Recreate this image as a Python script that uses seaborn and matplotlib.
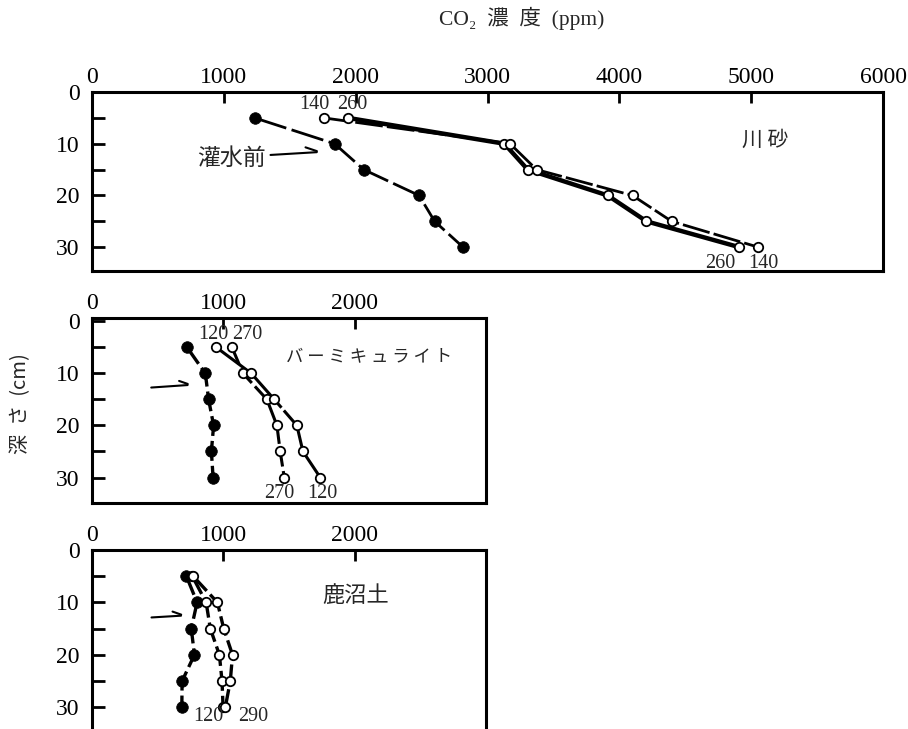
import matplotlib
matplotlib.use("Agg")
import matplotlib.pyplot as plt
from matplotlib import font_manager
import seaborn as sns
import pandas as pd

# ---------------- data ----------------
depth = [5, 10, 15, 20, 25, 30]

# 川砂 (river sand)
sand_before = [1233, 1840, 2061, 2481, 2599, 2815]
sand_140 = [1757, 3171, 3372, 4100, 4397, 5055]
sand_260 = [1941, 3128, 3305, 3912, 4206, 4911]

# バーミキュライト (vermiculite)
verm_before = [724, 863, 888, 926, 909, 922]
verm_120 = [947, 1213, 1388, 1560, 1606, 1738]
verm_270 = [1066, 1150, 1332, 1408, 1433, 1464]

# 鹿沼土 (kanuma soil)
kanuma_before = [719, 800, 756, 780, 686, 684]
kanuma_120 = [764, 869, 901, 970, 990, 998]
kanuma_290 = [770, 955, 1003, 1070, 1053, 1015]

xticks_top = [0, 1000, 2000, 3000, 4000, 5000, 6000]
xticks_small = [0, 1000, 2000]
yticks_major = [0, 10, 20, 30]
yticks_minor = [5, 15, 25]

title_text = "CO₂  濃  度  (ppm)"
ylabel_text = "深  さ  (cm)"

# ---------------- style ----------------
sns.set_style("white")
plt.rcParams["font.family"] = ["Liberation Serif", "Noto Sans CJK JP", "DejaVu Sans"]
JP = ["Noto Sans CJK JP", "DejaVu Sans"]


def has_font(name):
    try:
        font_manager.findfont(font_manager.FontProperties(family=name),
                              fallback_to_default=False)
        return True
    except Exception:
        return False


NUM = ["Liberation Sans Narrow"] if has_font("Liberation Sans Narrow") else ["Liberation Serif"]
NUM_SIZE = 15.5 if NUM[0] == "Liberation Sans Narrow" else 14.5

W, H = 908, 729
fig = plt.figure(figsize=(W / 100, H / 100), dpi=100)


def px_axes(left, top, right, bottom):
    return fig.add_axes([left / W, 1 - bottom / H, (right - left) / W, (bottom - top) / H])


ax_top = px_axes(92, 92, 883, 271)
ax_mid = px_axes(92, 318, 486, 503)
ax_bot = px_axes(92, 550, 486, 734)


def style_axes(ax, xticks, xmax, ylim):
    ax.set_xlim(0, xmax)
    ax.set_ylim(*ylim)
    ax.xaxis.tick_top()
    ax.set_xticks(xticks)
    ax.set_xticklabels([str(t) for t in xticks])
    ax.set_yticks(yticks_major)
    ax.set_yticklabels([str(t) for t in yticks_major])
    ax.set_yticks(yticks_minor, minor=True)
    ax.tick_params(axis="x", direction="in", length=8, width=2, pad=3,
                   labelsize=17, top=True, bottom=False, colors="black")
    ax.tick_params(axis="y", which="both", direction="in", length=9, width=2,
                   pad=9, labelsize=17, left=True, right=False, colors="black")
    ax.tick_params(axis="y", which="minor", labelleft=False)
    for s in ax.spines.values():
        s.set_visible(True)
        s.set_linewidth(2.2)
        s.set_color("black")
    ax.set_xlabel("")
    ax.set_ylabel("")
    ax.grid(False)


def draw_series(ax, xs, filled, lw, dashes):
    df = pd.DataFrame({"co2": xs, "depth": depth})
    sns.lineplot(data=df, x="co2", y="depth", sort=False, estimator=None,
                 color="black", lw=lw, ax=ax, zorder=2,
                 linestyle=(0, dashes) if dashes else "-")
    if filled:
        sns.scatterplot(data=df, x="co2", y="depth", ax=ax, s=70, color="black",
                        edgecolor="black", linewidth=0.5, zorder=4)
    else:
        sns.scatterplot(data=df, x="co2", y="depth", ax=ax, s=46, color="white",
                        edgecolor="black", linewidth=1.3, zorder=4)


def num_label(ax, x, y, s):
    ax.text(x, y, s, family=NUM, fontsize=NUM_SIZE, ha="center", va="center", zorder=5)


# ---------------- top panel: 川砂 ----------------
draw_series(ax_top, sand_before, True, 2.0, (12, 2))
draw_series(ax_top, sand_260, False, 3.2, None)
draw_series(ax_top, sand_140, False, 2.0, (10, 1.5))
style_axes(ax_top, xticks_top, 6000, (34.6, 0))

num_label(ax_top, 1690, 2.5, "140")
num_label(ax_top, 1975, 2.5, "260")
num_label(ax_top, 4762, 33.2, "260")
num_label(ax_top, 5094, 33.2, "140")
ax_top.text(5110, 9.2, "川 砂", family=JP, fontsize=15, ha="center", va="center")
ax_top.text(1061, 12.8, "灌水前", family=JP, fontsize=16.5, ha="center", va="center")
ax_top.annotate("", xy=(1726, 11.6), xytext=(1333, 12.2),
                arrowprops=dict(arrowstyle="-", lw=1.5, color="black"))
ax_top.annotate("", xy=(1726, 11.6), xytext=(-12, 4), textcoords="offset points",
                arrowprops=dict(arrowstyle="-", lw=1.5, color="black"))

# ---------------- middle panel: バーミキュライト ----------------
draw_series(ax_mid, verm_before, True, 2.4, (6, 1.5))
draw_series(ax_mid, verm_270, False, 2.2, (6, 1.5))
draw_series(ax_mid, verm_120, False, 2.2, (14, 1.2))
style_axes(ax_mid, xticks_small, 3000, (34.9, -0.65))

num_label(ax_mid, 925, 2.5, "120")
num_label(ax_mid, 1185, 2.5, "270")
num_label(ax_mid, 1422, 33.1, "270")
num_label(ax_mid, 1753, 33.1, "120")
ax_mid.text(2110, 6.8, "バ ー ミ キ ュ ラ イ ト", family=JP, fontsize=12.5,
            ha="center", va="center")
ax_mid.annotate("", xy=(749, 12.2), xytext=(430, 12.75),
                arrowprops=dict(arrowstyle="-", lw=1.5, color="black"))
ax_mid.annotate("", xy=(749, 12.2), xytext=(-10, 3.5), textcoords="offset points",
                arrowprops=dict(arrowstyle="-", lw=1.5, color="black"))

# ---------------- bottom panel: 鹿沼土 ----------------
draw_series(ax_bot, kanuma_before, True, 2.4, (6, 1.5))
draw_series(ax_bot, kanuma_120, False, 2.4, (6, 1.5))
draw_series(ax_bot, kanuma_290, False, 2.4, (6, 1.5))
style_axes(ax_bot, xticks_small, 3000, (35.1, 0))

num_label(ax_bot, 886, 31.7, "120")
num_label(ax_bot, 1225, 31.7, "290")
ax_bot.text(2004, 8.6, "鹿沼土", family=JP, fontsize=16, ha="center", va="center")
ax_bot.annotate("", xy=(699, 12.5), xytext=(432, 12.9),
                arrowprops=dict(arrowstyle="-", lw=1.5, color="black"))
ax_bot.annotate("", xy=(699, 12.5), xytext=(-10, 3.5), textcoords="offset points",
                arrowprops=dict(arrowstyle="-", lw=1.5, color="black"))

# ---------------- figure texts ----------------
fig.text(522 / W, 1 - 18 / H, title_text, fontsize=15.5, ha="center", va="center",
         family=["Liberation Serif", "Noto Sans CJK JP", "DejaVu Sans"])
fig.text(21 / W, 1 - 404 / H, ylabel_text, fontsize=14.5, ha="center", va="center",
         rotation=90, family=["Noto Sans CJK JP", "DejaVu Sans"])

fig.savefig("out.png", dpi=100)
